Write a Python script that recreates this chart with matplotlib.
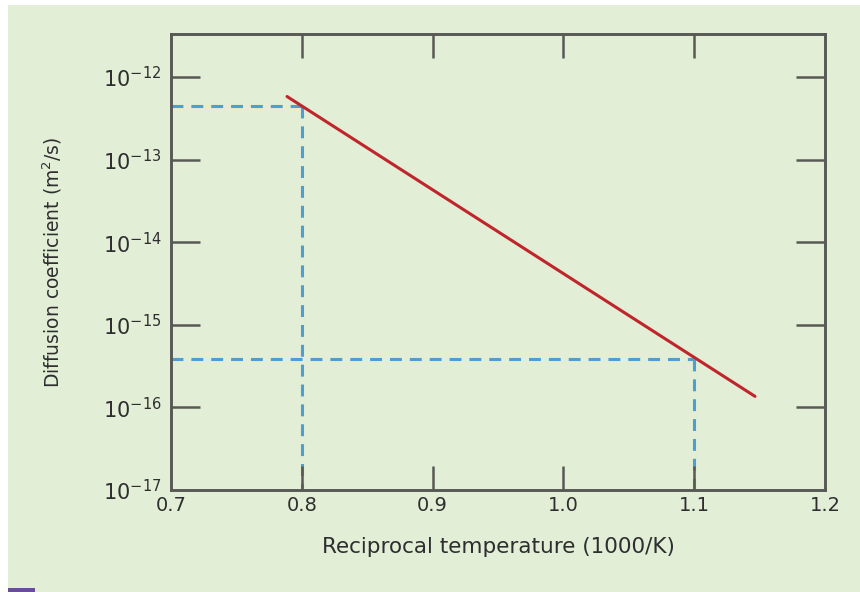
import math
import matplotlib
matplotlib.use("Agg")
import matplotlib.pyplot as plt
from matplotlib.patches import Rectangle
from matplotlib.ticker import FixedLocator, FuncFormatter

# diffusion line (Arrhenius plot), endpoints
line_x = [0.7887, 1.1465]
line_d = [5.8e-13, 1.36e-16]

# read-off points marked with dashed guides
guide_x = [0.8, 1.1]
guide_d = [4.45e-13, 3.9e-16]

x_ticks = [0.7, 0.8, 0.9, 1.0, 1.1, 1.2]
y_exps = [-17, -16, -15, -14, -13, -12]

BG = "#e2eed5"
FRAME = "#585955"
RED = "#c0252c"
BLUE = "#4d9fd3"
TXT = "#2e2e30"

fig = plt.figure(figsize=(8.6, 5.92), dpi=100, facecolor="white")
# page background strip + small corner mark
fig.patches.append(Rectangle((8 / 860, 0), 1, 1 - 5 / 592, transform=fig.transFigure,
                             facecolor=BG, edgecolor="none", zorder=-10))
fig.patches.append(Rectangle((8 / 860, 0), 27 / 860, 4 / 592, transform=fig.transFigure,
                             facecolor="#6a4c9c", edgecolor="none", zorder=-5))

ax = fig.add_axes([171 / 860, 1 - 490 / 592, 654 / 860, 456 / 592])
ax.set_facecolor(BG)
ax.set_axisbelow(False)  # ticks over the dashed guides
ax.set_yscale("log")
ax.set_xlim(0.7, 1.2)
ax.set_ylim(1e-17, 10 ** -11.48)

# dashed guides to the axes
for gx, gd in zip(guide_x, guide_d):
    ax.plot([0.7, gx], [gd, gd], color=BLUE, lw=2.2, ls=(0, (3.9, 2.6)), zorder=2)
    ax.plot([gx, gx], [gd, 1e-17], color=BLUE, lw=2.2, ls=(0, (3.9, 2.6)), zorder=2)

ax.plot(line_x, line_d, color=RED, lw=2.2, solid_capstyle="round", zorder=3)

for sp in ax.spines.values():
    sp.set_color(FRAME)
    sp.set_linewidth(2.1)
    sp.set_zorder(4)

ax.xaxis.set_major_locator(FixedLocator(x_ticks))
ax.xaxis.set_major_formatter(FuncFormatter(lambda v, p: f"{v:.1f}"))
ax.yaxis.set_major_locator(FixedLocator([10.0 ** e for e in y_exps]))
ax.yaxis.set_minor_locator(FixedLocator([]))
ax.yaxis.set_major_formatter(FuncFormatter(lambda v, p: r"$10^{%d}$" % round(math.log10(v))))

ax.tick_params(axis="x", direction="in", length=17, width=1.8, color=FRAME,
               top=True, labelsize=14, labelcolor=TXT, pad=4)
ax.tick_params(axis="y", direction="in", length=21, width=1.8, color=FRAME,
               right=True, labelsize=15, labelcolor=TXT, pad=7)

# end ticks sit on the spines, hide them
for t in ax.xaxis.get_major_ticks()[::len(x_ticks) - 1]:
    t.tick1line.set_visible(False)
    t.tick2line.set_visible(False)
t = ax.yaxis.get_major_ticks()[0]
t.tick1line.set_visible(False)
t.tick2line.set_visible(False)

ax.set_xlabel("Reciprocal temperature (1000/K)", fontsize=15.5, color=TXT, labelpad=16)
ax.set_ylabel("Diffusion coefficient (m$^2$/s)", fontsize=13.5, color=TXT)
ax.yaxis.set_label_coords(-0.163, 0.5)

fig.savefig("out.png", dpi=100, facecolor=fig.get_facecolor())
